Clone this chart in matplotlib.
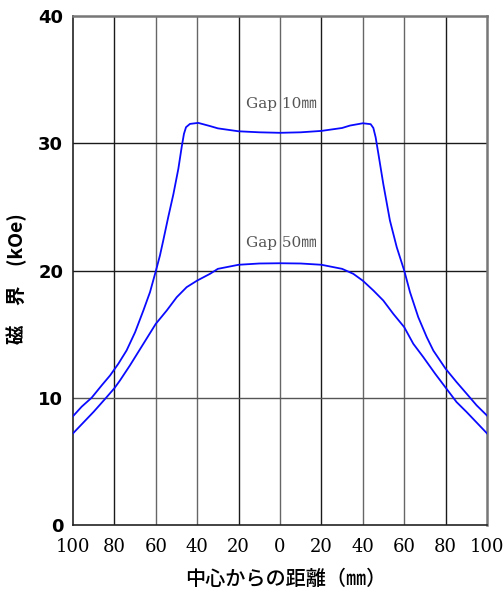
import numpy as np
import matplotlib.pyplot as plt

# distance from center (mm), negative = left side ; field in kOe
x_gap10 = [-100, -95.8, -91, -86, -82.1, -78.1, -74.1, -70, -66, -62.8, -60, -58, -56.4, -54, -51.5, -49.1,
           -47.5, -46.4, -45.4, -43.5, -39.5, -33.8, -30, -20, -10, 0, 10, 20, 30, 33.8, 40, 43.8,
           45.1, 46.2, 47.5, 49.9, 53.1, 56.4, 60, 62.8, 66.8, 70.9, 74.1, 80, 85.3, 90.2, 95, 100]
b_gap10 = [8.55, 9.3, 10.0, 11.0, 11.75, 12.67, 13.72, 15.15, 16.86, 18.3, 19.95, 21.18, 22.36, 24.19, 26.0, 28.0,
           29.7, 30.74, 31.26, 31.52, 31.6, 31.35, 31.17, 30.94, 30.86, 30.82, 30.86, 30.97, 31.2, 31.39, 31.57, 31.5,
           31.2, 30.47, 29.2, 26.8, 23.93, 21.83, 20.0, 18.3, 16.33, 14.76, 13.7, 12.28, 11.23, 10.31, 9.4, 8.6]

x_gap50 = [-100, -95, -90, -84, -80, -77.3, -72.5, -66, -60, -54.7, -49.9, -45.1, -40, -33.8, -30, -20, -10,
           0, 10, 20, 30, 35.4, 40, 45.1, 49.9, 54.7, 60, 64.4, 69.2, 74.9, 80, 85.3, 90.2, 100]
b_gap50 = [7.2, 8.05, 8.9, 10.0, 10.75, 11.36, 12.54, 14.24, 15.81, 16.86, 17.9, 18.69, 19.21, 19.74, 20.13, 20.45, 20.55,
           20.57, 20.55, 20.45, 20.13, 19.74, 19.2, 18.43, 17.64, 16.6, 15.55, 14.24, 13.2, 11.9, 10.8, 9.66, 8.87, 7.2]

xticks = [-100, -80, -60, -40, -20, 0, 20, 40, 60, 80, 100]
yticks = [0, 10, 20, 30, 40]

fig = plt.figure(figsize=(5.04, 5.93), dpi=100)
ax = fig.add_axes([73/504, 68/593, 414/504, 509/593])

# grid lines, some darker some grey like the scan
dark_x = [-80, -20, 20, 80]
for xv in xticks[1:-1]:
    c = '#1a1a1a' if xv in dark_x else '#666666'
    ax.axvline(xv, color=c, lw=1.0, zorder=1)
for yv, c in zip([10, 20, 30], ['#555555', '#1a1a1a', '#1a1a1a']):
    ax.axhline(yv, color=c, lw=1.0, zorder=1)

ax.plot(x_gap10, b_gap10, color='#0a0aff', lw=1.3, zorder=3)
ax.plot(x_gap50, b_gap50, color='#0a0aff', lw=1.3, zorder=3)

ax.text(-16.5, 33.1, 'Gap 10㎜', family=['DejaVu Serif', 'Noto Sans CJK JP'], fontsize=11,
        color='#555555', va='center')
ax.text(-16.5, 22.2, 'Gap 50㎜', family=['DejaVu Serif', 'Noto Sans CJK JP'], fontsize=11,
        color='#555555', va='center')

ax.set_xlim(-100, 100)
ax.set_ylim(0, 40)
ax.set_xticks(xticks)
ax.set_xticklabels([str(abs(v)) for v in xticks], family='DejaVu Serif', fontsize=13)
ax.set_yticks(yticks)
ax.set_yticklabels([str(v) for v in yticks], family='DejaVu Sans', fontsize=13, fontweight='bold')
ax.tick_params(length=0)
ax.tick_params(axis='x', pad=9)
ax.tick_params(axis='y', pad=7)

for s in ['top', 'right']:
    ax.spines[s].set_color('#777777')
    ax.spines[s].set_linewidth(1.8)
ax.spines['left'].set_color('#222222')
ax.spines['bottom'].set_color('#222222')
ax.spines['left'].set_linewidth(1.2)
ax.spines['bottom'].set_linewidth(1.2)

ax.set_xlabel('中心からの距離（㎜）', family=['Noto Sans CJK JP'], fontsize=14.5, fontweight='medium')
ax.xaxis.set_label_coords(0.515, -0.087)
ax.set_ylabel('磁　界　(kOe)', family=['Noto Sans CJK JP', 'DejaVu Sans'], fontsize=14,
              fontweight='bold')
ax.yaxis.set_label_coords(-0.11, 0.485)

fig.savefig('out.png', dpi=100)
